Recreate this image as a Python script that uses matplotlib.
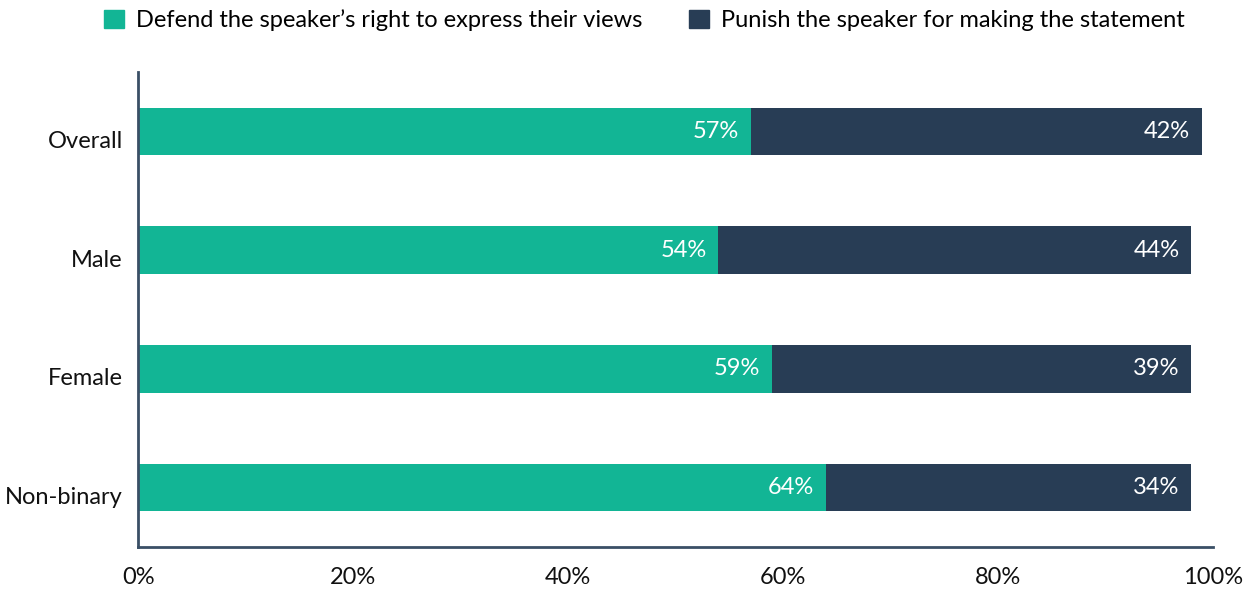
import matplotlib
matplotlib.use("Agg")
import matplotlib.pyplot as plt
import matplotlib.transforms as mtransforms
from matplotlib.patches import Patch

categories = ["Overall", "Male", "Female", "Non-binary"]
defend = [57, 54, 59, 64]
punish = [42, 44, 39, 34]
series_names = ["Defend the speaker\u2019s right to express their views",
                "Punish the speaker for making the statement"]
xticks = [0, 20, 40, 60, 80, 100]
xtick_labels = ["0%", "20%", "40%", "60%", "80%", "100%"]

green = "#12B595"
navy = "#283D55"
spine_col = "#3A4F66"

plt.rcParams["font.family"] = ["Lato", "DejaVu Sans"]
fs = 17

fig = plt.figure(figsize=(12.44, 5.94), dpi=100)
ax = fig.add_axes([0.111, 0.079, 0.864, 0.800])

y = list(range(len(categories)))
h = 0.40
ax.barh(y, defend, height=h, color=green)
ax.barh(y, punish, left=defend, height=h, color=navy)

for i in y:
    ax.text(defend[i] - 1.1, i, f"{defend[i]}%", ha="right", va="center",
            color="white", fontsize=fs)
    ax.text(defend[i] + punish[i] - 1.1, i, f"{punish[i]}%", ha="right",
            va="center", color="white", fontsize=fs)

ax.set_ylim(3.5, -0.5)
ax.set_xlim(0, 100)
ax.set_yticks(y)
ax.set_yticklabels(categories, fontsize=fs, color="#111111")
ax.set_xticks(xticks)
ax.set_xticklabels(xtick_labels, fontsize=fs, color="#111111")
ax.tick_params(axis="both", length=0)
ax.tick_params(axis="x", pad=14)
ax.tick_params(axis="y", pad=11)
off = mtransforms.ScaledTranslation(0, -0.08, fig.dpi_scale_trans)
for lab in ax.get_yticklabels():
    lab.set_transform(lab.get_transform() + off)

for s in ["top", "right"]:
    ax.spines[s].set_visible(False)
for s in ["left", "bottom"]:
    ax.spines[s].set_color(spine_col)
    ax.spines[s].set_linewidth(2)

handles = [Patch(color=green), Patch(color=navy)]
fig.legend(handles, series_names, loc="upper center", ncol=2,
           bbox_to_anchor=(0.518, 1.02), frameon=False, fontsize=fs,
           handlelength=0.85, handleheight=0.85, handletextpad=0.5,
           columnspacing=2.0)

fig.savefig("out.png", dpi=100)
